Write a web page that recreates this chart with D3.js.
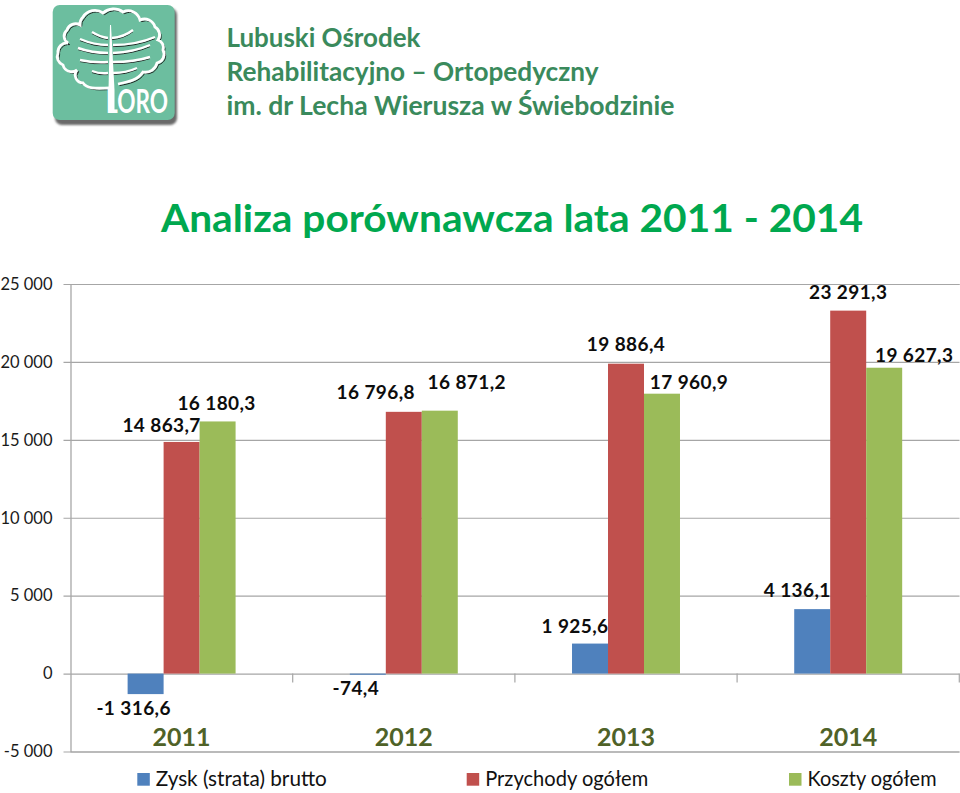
<!DOCTYPE html>
<html><head><meta charset="utf-8">
<script src="https://cdn.jsdelivr.net/npm/d3@7/dist/d3.min.js"></script>
<style>html,body{margin:0;background:#fff}svg{display:block}text{font-family:Lato,"Open Sans",sans-serif}</style>
</head><body><svg id="c" width="960" height="793"></svg>
<script>
const categories=["2011","2012","2013","2014"];
const seriesNames=["Zysk (strata) brutto","Przychody ogółem","Koszty ogółem"];
const zysk=[-1316.6,-74.4,1925.6,4136.1];
const przychody=[14863.7,16796.8,19886.4,23291.3];
const koszty=[16180.3,16871.2,17960.9,19627.3];
const tickValues=[-5000,0,5000,10000,15000,20000,25000];
const headerLines=["Lubuski Ośrodek","Rehabilitacyjno – Ortopedyczny","im. dr Lecha Wierusza w Świebodzinie"];
const titleText="Analiza porównawcza lata 2011 - 2014";
const colors=["#4f81bd","#c0504d","#9bbb59"];

const svg=d3.select("#c");
const fmt=(v,dec)=>{const neg=v<0;const a=Math.abs(v);const s=dec?a.toFixed(1):String(a);
  let [i,f]=s.split(".");i=i.replace(/\B(?=(\d{3})+$)/g," ");return (neg?"-":"")+i+(f?","+f:"");};
const y=d3.scaleLinear().domain([-5000,25000]).range([751.5,284]);
const x0=d3.scaleBand().domain(categories).range([70.5,959.3]);
const x1=d3.scaleBand().domain([0,1,2]).range([0,x0.bandwidth()]).paddingInner(0).paddingOuter(1.587);
const series=[zysk,przychody,koszty];

// grid
const yAxis=d3.axisLeft(y).tickValues(tickValues).tickSize(-889).tickPadding(18).tickFormat(v=>fmt(v,false));
const gy=svg.append("g").attr("transform","translate(70.5,0)").call(yAxis);
gy.select(".domain").attr("stroke","#a0a0a0").attr("stroke-width",1.2);
gy.selectAll(".tick line").attr("stroke","#a6a6a6").attr("stroke-width",1.2).attr("x1",-7);
gy.selectAll(".tick text").attr("fill","#1a1a1a").attr("font-size",16.5).attr("font-family","Lato");

// bars
series.forEach((vals,si)=>{
  svg.append("g").selectAll("rect").data(vals).join("rect")
    .attr("x",(d,i)=>x0(categories[i])+x1(si))
    .attr("width",x1.bandwidth())
    .attr("y",d=>y(Math.max(d,0)))
    .attr("height",d=>Math.abs(y(d)-y(0)))
    .attr("fill",colors[si]);
});

// category ticks below zero line
svg.append("g").selectAll("line").data(categories.slice(1).concat(["end"])).join("line")
  .attr("x1",d=>d==="end"?959.3:x0(d)).attr("x2",d=>d==="end"?959.3:x0(d))
  .attr("y1",y(0)).attr("y2",y(0)+9).attr("stroke","#a6a6a6").attr("stroke-width",1.2);

// category labels
svg.append("g").selectAll("text").data(categories).join("text")
  .attr("x",d=>x0(d)+x0.bandwidth()/2).attr("y",746).attr("text-anchor","middle")
  .attr("font-size",25).attr("font-weight",700).attr("fill","#4f6228").text(d=>d);

// data labels: hand-placed offsets from each bar's centre and end
const labelShift=[
 [[-12,14],[-20,-16.5],[-1,-18.5]],
 [[-12,13.5],[-28,-19.5],[27,-28.5]],
 [[-15,-17.5],[0,-19.5],[27,-11.5]],
 [[-15,-18.5],[0,-18.5],[30,-12.5]]];
series.forEach((vals,si)=>{
  svg.append("g").selectAll("text").data(vals).join("text")
    .attr("x",(d,i)=>x0(categories[i])+x1(si)+x1.bandwidth()/2+labelShift[i][si][0])
    .attr("y",(d,i)=>y(d)+labelShift[i][si][1])
    .attr("dy","0.35em").attr("text-anchor","middle")
    .attr("font-size",19).attr("letter-spacing",0.4).attr("font-weight",700).attr("fill","#0d0d0d").text(d=>fmt(d,true));
});

// legend
const legendX=[137.3,466.7,789];
const legendW=[171,163,129];
seriesNames.forEach((n,i)=>{
  svg.append("rect").attr("x",legendX[i]).attr("y",773).attr("width",12.5).attr("height",12.7).attr("fill",colors[i]);
  svg.append("text").attr("x",legendX[i]+18.5).attr("y",786).attr("font-size",21).attr("fill","#111")
    .attr("textLength",legendW[i]).attr("lengthAdjust","spacingAndGlyphs").text(n);
});

// title
svg.append("text").attr("x",161).attr("y",232).attr("font-size",38).attr("font-weight",700).attr("fill","#00a84f")
  .attr("textLength",702).attr("lengthAdjust","spacingAndGlyphs").text(titleText);

// header
const headerY=[47,81,115];const headerW=[194,372,448];
headerLines.forEach((t,i)=>{
  svg.append("text").attr("x",226.5).attr("y",headerY[i]).attr("font-size",26.5).attr("font-weight",700)
   .attr("fill","#3a8a5c").attr("textLength",headerW[i]).attr("lengthAdjust","spacingAndGlyphs").text(t);
});

// logo
const defs=svg.append("defs");
defs.append("filter").attr("id","blur").append("feGaussianBlur").attr("stdDeviation",1.2);
const logo=svg.append("g");
logo.append("rect").attr("x",55).attr("y",8).attr("width",122).attr("height",117).attr("rx",7).attr("fill","#444").attr("opacity",.8).attr("filter","url(#blur)");
logo.append("rect").attr("x",52.7).attr("y",5).attr("width",122).attr("height",115).attr("rx",7).attr("fill","#6cbe9f");
const crown="M110 88 C100 88 88 90 83 83 A8 8 0 0 1 77 70 A9 9 0 0 1 63 65 A9 9 0 0 1 58 53 A9 9 0 0 1 68 43 A8 8 0 0 1 67 30 A9 9 0 0 1 80 25 A10 10 0 0 1 83 17 A14 14 0 0 1 103 13 A16 16 0 0 1 123 12 A12 12 0 0 1 140 20 A11 11 0 0 1 155 27 A9 9 0 0 1 158 40 A8 8 0 0 1 163 50 A9 9 0 0 1 157 63 A12 12 0 0 1 143 72 C138 80 128 82 118 84";
logo.append("path").attr("d",crown).attr("fill","none").attr("stroke","#222").attr("stroke-width",1).attr("transform","translate(1.6,1.6)");
logo.append("path").attr("d",crown).attr("fill","none").attr("stroke","#fff").attr("stroke-width",2.8);
const bough="M92 32 Q100 37 108 38 M112 38 Q124 37 133 30 M80 39 Q94 45 108 45 M113 45 Q136 45 155 37 M78 48 Q92 53 108 53 M113 53 Q134 52 150 45 M80 60 Q94 63 108 62 M113 62 Q134 62 150 57 M92 71 Q100 74 108 73 M113 73 Q126 73 137 68";
logo.append("path").attr("d",bough).attr("fill","none").attr("stroke","#222").attr("stroke-width",1).attr("transform","translate(0,1.6)");
logo.append("path").attr("d",bough).attr("fill","none").attr("stroke","#fff").attr("stroke-width",2.4);
logo.append("path").attr("d","M110 25 L111 25 L114.5 90 L114.5 110 L108.5 110 L108.5 90 Z").attr("fill","#fff");
logo.append("text").attr("x",106).attr("y",112.5).attr("font-size",33).attr("font-weight",700).attr("fill","#fff")
  .attr("textLength",62).attr("lengthAdjust","spacingAndGlyphs").text("LORO");
</script></body></html>
